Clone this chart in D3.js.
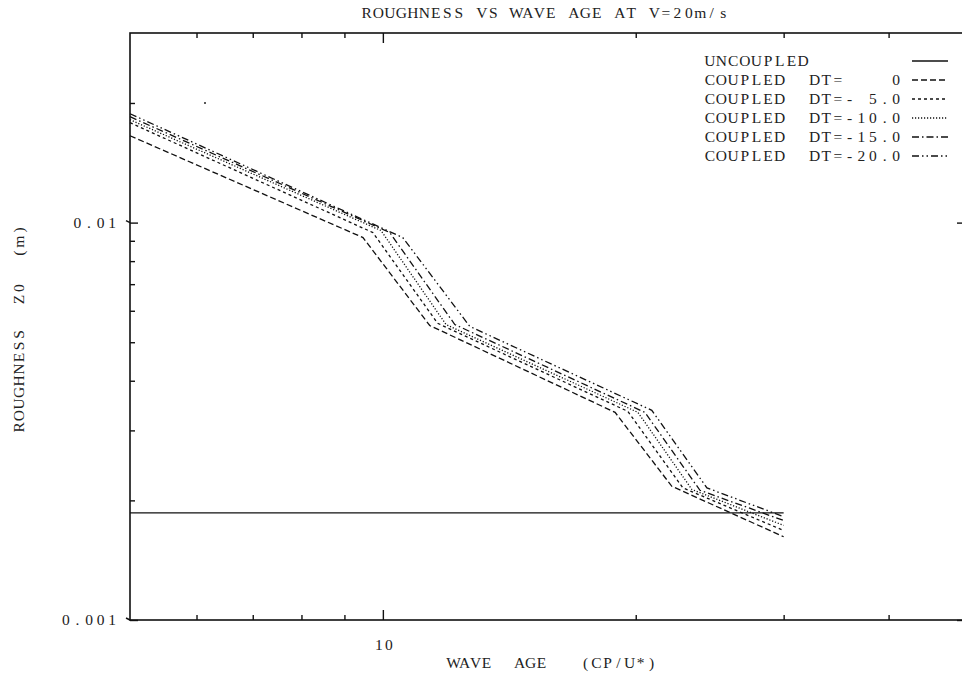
<!DOCTYPE html>
<html>
<head>
<meta charset="utf-8">
<script src="https://cdn.jsdelivr.net/npm/d3@7"></script>
<style>
  body { margin: 0; background: #fff; }
  text { font-family: "Liberation Serif", "DejaVu Serif", serif; font-size: 15.5px; fill: #222; }
</style>
</head>
<body>
<div id="chart"></div>
<script>
// wave age (CP/U*) break points and roughness Z0 (m) for each run
const uncoupledAge = [5, 30];
const uncoupledZ0 = [0.00186, 0.00186];

const dt0Age = [5, 9.47, 11.37, 18.9, 22.08, 30];
const dt0Z0 = [0.01654, 0.00917, 0.00551, 0.00333, 0.00217, 0.00162];
const dt5Age = [5, 9.73, 11.62, 19.57, 22.76, 30];
const dt5Z0 = [0.01784, 0.00944, 0.00558, 0.00335, 0.00215, 0.00168];
const dt10Age = [5, 9.95, 11.89, 20.12, 23.33, 30];
const dt10Z0 = [0.01815, 0.00955, 0.00554, 0.00333, 0.00213, 0.00173];
const dt15Age = [5, 10.19, 12.18, 20.51, 23.85, 30];
const dt15Z0 = [0.01847, 0.00944, 0.00554, 0.00333, 0.00212, 0.00178];
const dt20Age = [5, 10.56, 12.69, 20.9, 24.31, 30];
const dt20Z0 = [0.01879, 0.00917, 0.00548, 0.00337, 0.00215, 0.00182];

const legendLabels = [
  "UNCOUPLED",
  "COUPLED  DT=    0",
  "COUPLED  DT=- 5.0",
  "COUPLED  DT=-10.0",
  "COUPLED  DT=-15.0",
  "COUPLED  DT=-20.0",
];

const xMajor = [10];
const xMinor = [6, 7, 8, 9, 20, 30, 40];
const yMajor = [0.001, 0.01];
const yMinor = [0.002, 0.003, 0.004, 0.005, 0.006, 0.007, 0.008, 0.009, 0.02];

const w = 962;
const h = 674;
const svg = d3.select("#chart").append("svg").attr("width", w).attr("height", h);

const x = d3.scaleLog().domain([5, 50]).range([130, 970]);
const y = d3.scaleLog().domain([0.001, 0.03]).range([620, 33]);

const dashes = [null, "6,3", "3,3", "1.2,1.8", "7,3,1.5,3", "7,3,1.5,3,1.5,3"];

const series = [
  [uncoupledAge, uncoupledZ0],
  [dt0Age, dt0Z0],
  [dt5Age, dt5Z0],
  [dt10Age, dt10Z0],
  [dt15Age, dt15Z0],
  [dt20Age, dt20Z0],
];

// typewriter style: one glyph per fixed cell
function mono(parent, str, x0, y0, pitch) {
  const t = parent.append("text").attr("y", y0);
  str.split("").forEach((c, i) => {
    if (c === " ") return;
    t.append("tspan")
      .attr("x", x0 + i * pitch + pitch / 2)
      .attr("text-anchor", "middle")
      .text(c);
  });
  return t;
}

// frame
svg.append("rect")
  .attr("x", x(5)).attr("y", y(0.03))
  .attr("width", x(50) - x(5)).attr("height", y(0.001) - y(0.03))
  .attr("fill", "none").attr("stroke", "#111").attr("stroke-width", 1.6);

function noLabel(a) {
  return a.tickFormat("").tickSizeOuter(0);
}

// ticks point inward on every side
svg.append("g").attr("transform", `translate(0,${y(0.001)})`)
  .call(noLabel(d3.axisBottom(x).tickValues(xMinor).tickSizeInner(-5)));
svg.append("g").attr("transform", `translate(0,${y(0.001)})`)
  .call(noLabel(d3.axisBottom(x).tickValues(xMajor).tickSizeInner(-10)));
svg.append("g").attr("transform", `translate(0,${y(0.03)})`)
  .call(noLabel(d3.axisTop(x).tickValues(xMinor).tickSizeInner(-5)));
svg.append("g").attr("transform", `translate(0,${y(0.03)})`)
  .call(noLabel(d3.axisTop(x).tickValues(xMajor).tickSizeInner(-10)));

svg.append("g").attr("transform", `translate(${x(5)},0)`)
  .call(noLabel(d3.axisLeft(y).tickValues(yMinor).tickSizeInner(-5)));
svg.append("g").attr("transform", `translate(${x(5)},0)`)
  .call(noLabel(d3.axisLeft(y).tickValues(yMajor).tickSizeInner(-8)));
svg.append("g").attr("transform", `translate(${x(50)},0)`)
  .call(noLabel(d3.axisRight(y).tickValues(yMinor).tickSizeInner(-5)));
svg.append("g").attr("transform", `translate(${x(50)},0)`)
  .call(noLabel(d3.axisRight(y).tickValues(yMajor).tickSizeInner(-13)));

svg.selectAll(".domain").remove();
svg.selectAll(".tick line").attr("stroke", "#111").attr("stroke-width", 1.4);

// small outward stubs at the decades
svg.selectAll(".stub").data(yMajor).enter().append("line")
  .attr("x1", x(5) - 4).attr("x2", x(5))
  .attr("y1", (d) => y(d) - 2).attr("y2", (d) => y(d))
  .attr("stroke", "#111").attr("stroke-width", 1.4);

// stray plotter dot
svg.append("circle").attr("cx", 205).attr("cy", 103).attr("r", 1).attr("fill", "#222");

// tick labels
yMajor.forEach((d) => {
  const s = d === 0.01 ? "0.01" : "0.001";
  mono(svg, s, 118 - s.length * 11.6, y(d) + 5, 11.6);
});
xMajor.forEach((d) => {
  mono(svg, String(d), x(d) - 9, 650, 10);
});

// curves
const line = d3.line().x((d) => x(d[0])).y((d) => y(d[1]));
series.forEach((s, i) => {
  const pts = s[0].map((a, j) => [a, s[1][j]]);
  svg.append("path")
    .datum(pts)
    .attr("d", line)
    .attr("fill", "none")
    .attr("stroke", "#111")
    .attr("stroke-width", 1.3)
    .attr("stroke-dasharray", dashes[i]);
});

// titles
mono(svg, "ROUGHNESS VS WAVE AGE AT V=20m/s", 361, 18, 11.5);
mono(svg, "WAVE  AGE   (CP/U*)", 448, 668, 11);
mono(svg.append("g").attr("transform", "translate(24,433) rotate(-90)"),
  "ROUGHNESS  Z0  (m)", 0, 0, 11.6);

// legend
const leg = svg.append("g");
legendLabels.forEach((t, i) => {
  const yy = 61 + i * 19;
  mono(leg, t, 704, yy + 5, 11.65);
  leg.append("line")
    .attr("x1", 912).attr("x2", 948)
    .attr("y1", yy).attr("y2", yy)
    .attr("stroke", "#111").attr("stroke-width", 1.3)
    .attr("stroke-dasharray", dashes[i]);
});
</script>
</body>
</html>
